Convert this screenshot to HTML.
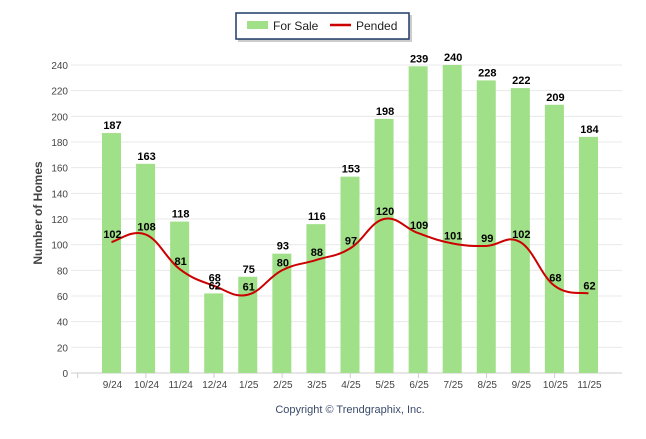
<!DOCTYPE html>
<html><head><meta charset="utf-8"><style>
body{margin:0;background:#fff;width:646px;height:434px;overflow:hidden;font-family:"Liberation Sans",sans-serif}
</style></head><body>
<svg id="c" width="646" height="434" xmlns="http://www.w3.org/2000/svg">
<g>
<rect x="238" y="15" width="174" height="27" fill="#999" opacity="0.5"/>
<rect x="236" y="13" width="173" height="26" fill="#fff" stroke="#1f3b66" stroke-width="1.5"/>
<rect x="247" y="21" width="21" height="8" fill="#a0e088"/>
<text x="273" y="30" font-size="12" fill="#222">For Sale</text>
<line x1="330" y1="25" x2="351" y2="25" stroke="#cc0000" stroke-width="2.5"/>
<text x="356" y="30" font-size="12" fill="#222">Pended</text>
</g>
<text transform="translate(42,213) rotate(-90)" text-anchor="middle" font-size="12" font-weight="bold" fill="#444">Number of Homes</text>
<text x="350" y="413" text-anchor="middle" font-size="11" fill="#3a4a6a">Copyright © Trendgraphix, Inc.</text>
<g id="grid"></g><g id="bars"></g><g id="line"></g><g id="labels"></g>
</svg>
<script>
const categories=["9/24","10/24","11/24","12/24","1/25","2/25","3/25","4/25","5/25","6/25","7/25","8/25","9/25","10/25","11/25"];
const forSale=[187,163,118,62,75,93,116,153,198,239,240,228,222,209,184];
const pended=[102,108,81,68,61,80,88,97,120,109,101,99,102,68,62];
const yTicks=[0,20,40,60,80,100,120,140,160,180,200,220,240];
const NS="http://www.w3.org/2000/svg";
const y=v=>373-v*(308/240);
const x=i=>111.5+i*34.07;
function mk(tag,attrs,parent,text){const e=document.createElementNS(NS,tag);for(const k in attrs)e.setAttribute(k,attrs[k]);if(text!==undefined)e.textContent=text;document.getElementById(parent).appendChild(e);return e;}
yTicks.forEach(t=>{
 const g=mk('line',{x1:71,x2:622,y1:y(t),y2:y(t),stroke:t===0?'#ccc':'#e8e8e8','stroke-width':1},'grid');
 
 
 const l=mk('text',{x:68,y:y(t)+4,'text-anchor':'end','font-size':10,fill:'#444'},'grid',t);
 
 
});
for(let k=0;k<8;k++){const tx=77.7+68.14*k;const tk=mk('line',{x1:tx,x2:tx,y1:373,y2:378,stroke:'#ccc'},'grid');
 
 }
categories.forEach((c,i)=>{
 const b=mk('rect',{x:x(i)-9.5,y:y(forSale[i]),width:19,height:373-y(forSale[i]),fill:'#a0e088'},'bars');
 
 
 const xl=mk('text',{x:x(i)+1,y:388,'text-anchor':'middle','font-size':10,fill:'#444'},'labels',c);
 
 
 const bl=mk('text',{x:x(i)+1,y:y(forSale[i])-4,'text-anchor':'middle','font-size':11,'font-weight':'bold',fill:'#000'},'labels',forSale[i]);
 
 
 const pl=mk('text',{x:x(i)+1,y:y(pended[i])-4,'text-anchor':'middle','font-size':11,'font-weight':'bold',fill:'#000'},'labels',pended[i]);
 
 
});
// smooth line (Catmull-Rom)
const pts=pended.map((v,i)=>[x(i),y(v)]);
let d='M'+pts[0][0]+','+pts[0][1];
for(let i=0;i<pts.length-1;i++){
 const p0=pts[Math.max(0,i-1)],p1=pts[i],p2=pts[i+1],p3=pts[Math.min(pts.length-1,i+2)];
 const t=0.2;
 d+=' C'+(p1[0]+(p2[0]-p0[0])*t)+','+(p1[1]+(p2[1]-p0[1])*t)+' '+(p2[0]-(p3[0]-p1[0])*t)+','+(p2[1]-(p3[1]-p1[1])*t)+' '+p2[0]+','+p2[1];
}
const ln=mk('path',{d:d,fill:'none',stroke:'#cc0000','stroke-width':2},'line');


</script>
</body></html>
